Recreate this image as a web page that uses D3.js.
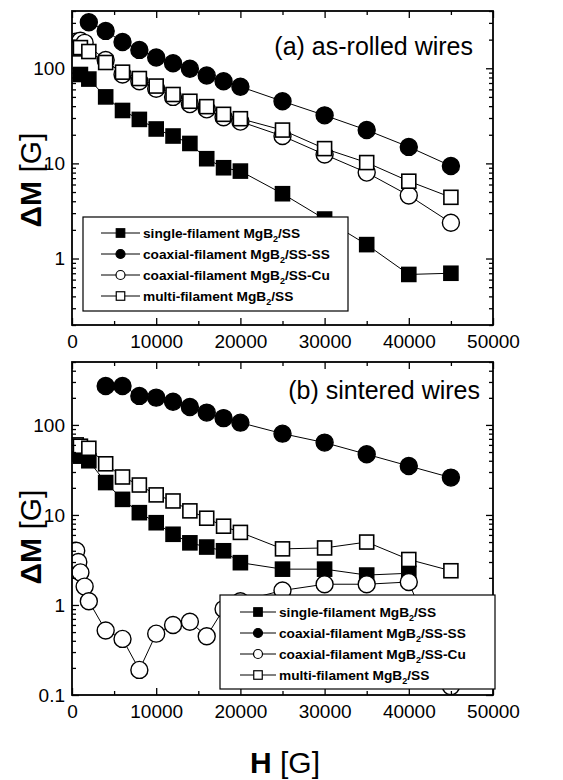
<!DOCTYPE html>
<html><head><meta charset="utf-8">
<script src="https://cdn.jsdelivr.net/npm/d3@7"></script>
<style>body{margin:0;background:#fff}svg{display:block}</style>
</head><body>
<script>
// ---- DATA ----
const seriesNames = ["single-filament MgB", "coaxial-filament MgB", "coaxial-filament MgB", "multi-filament MgB"];
const seriesSuffix = ["/SS", "/SS-SS", "/SS-Cu", "/SS"];
const xTicks = [0, 10000, 20000, 30000, 40000, 50000];
const yTicksA = [1, 10, 100];
const yTicksB = [0.1, 1, 10, 100];
const panelTitles = ["(a) as-rolled wires", "(b) sintered wires"];

// (a) as-rolled wires
const a_single_H = [1000,2000,4000,6000,8000,10000,12000,14000,16000,18000,20000,25000,30000,35000,40000,45000];
const a_single_M = [86,77,50,36,29,23,19.4,16.2,11.2,9.0,8.3,4.8,2.6,1.4,0.68,0.70];
const a_coaxSS_H = [2000,4000,6000,8000,10000,12000,14000,16000,18000,20000,25000,30000,35000,40000,45000];
const a_coaxSS_M = [305,247,189,156,130,113,99,84,73,64,45,32,22.4,14.9,9.4];
const a_coaxCu_H = [500,1000,1500,4000,6000,8000,10000,12000,14000,16000,18000,20000,25000,30000,35000,40000,45000];
const a_coaxCu_M = [190,195,185,122,86,73,61,50,42,37,30.5,27.5,19.4,12.4,8.0,4.6,2.38];
const a_multi_H = [500,1000,2000,4000,6000,8000,10000,12000,14000,16000,18000,20000,25000,30000,35000,40000,45000];
const a_multi_M = [160,165,150,115,91,78,65,53,45,39.5,32.8,29.5,22.4,14.3,10.2,6.5,4.4];

// (b) sintered wires
const b_single_H = [500,1000,2000,4000,6000,8000,10000,12000,14000,16000,18000,20000,25000,30000,35000,40000];
const b_single_M = [48,45,40,22.9,14.9,10.6,8.2,6.1,4.9,4.4,4.0,2.95,2.5,2.5,2.15,2.25];
const b_coaxSS_H = [4000,6000,8000,10000,12000,14000,16000,18000,20000,25000,30000,35000,40000,45000];
const b_coaxSS_M = [271,271,210,201,181,158,137,119,106,80,63.6,47.2,35,26];
const b_coaxCu_H = [500,750,1000,1500,2000,4000,6000,8000,10000,12000,14000,16000,18000,20000,25000,30000,35000,40000,45000];
const b_coaxCu_M = [4.0,3.0,2.3,1.6,1.1,0.52,0.42,0.19,0.48,0.6,0.65,0.45,0.9,1.1,1.45,1.7,1.7,1.8,0.125];
const b_multi_H = [500,1000,2000,4000,6000,8000,10000,12000,14000,16000,18000,20000,25000,30000,35000,40000,45000];
const b_multi_M = [60,58,55,37,26.4,21.5,16.7,14.3,11.1,9.2,7.5,6.4,4.2,4.3,5.0,3.2,2.4];

// ---- DRAW ----
const W = 563, Hh = 780;
const FONT = "'Liberation Sans', Arial, Helvetica, sans-serif";
const svg = d3.select("body").append("svg").attr("width", W).attr("height", Hh)
  .style("font-family", FONT);
svg.append("rect").attr("width", W).attr("height", Hh).attr("fill", "#fff");

const x = d3.scaleLinear().domain([0, 50000]).range([72, 493]);
const markerTypes = ["sqFill", "circFill", "circOpen", "sqOpen"];

const zip = (hs, ms) => hs.map((h, i) => [h, ms[i]]);

const panels = [
  {top: 11, bottom: 325, domain: [0.2, 400], yTicks: yTicksA, title: panelTitles[0], titleX: 473, titleY: 55,
   series: [zip(a_single_H, a_single_M), zip(a_coaxSS_H, a_coaxSS_M), zip(a_coaxCu_H, a_coaxCu_M), zip(a_multi_H, a_multi_M)],
   legend: {x: 83, y: 217, w: 265, h: 94, rows: [233, 254, 275, 296], l0: 101, l1: 140, tx: 143},
   xLabelY: 350, yLabelY: 180},
  {top: 362, bottom: 695, domain: [0.1, 500], yTicks: yTicksB, title: panelTitles[1], titleX: 480, titleY: 399,
   series: [zip(b_single_H, b_single_M), zip(b_coaxSS_H, b_coaxSS_M), zip(b_coaxCu_H, b_coaxCu_M), zip(b_multi_H, b_multi_M)],
   legend: {x: 220, y: 595, w: 275, h: 94, rows: [612, 633, 654, 675], l0: 240, l1: 276, tx: 279},
   xLabelY: 713, yLabelY: 537}
];

function drawMarker(g, type, cx, cy, big) {
  const r = big ? 8.5 : 4.5, s = big ? 14 : 8.5;
  if (type.startsWith("sq")) {
    g.append("rect").attr("x", cx - s / 2).attr("y", cy - s / 2).attr("width", s).attr("height", s)
      .attr("fill", type === "sqFill" ? "#000" : "#fff").attr("stroke", "#000").attr("stroke-width", big ? 1.6 : 1.2);
  } else {
    g.append("circle").attr("cx", cx).attr("cy", cy).attr("r", r)
      .attr("fill", type === "circFill" ? "#000" : "#fff").attr("stroke", "#000").attr("stroke-width", big ? 1.4 : 1.2);
  }
}

panels.forEach((p, pi) => {
  const y = d3.scaleLog().domain(p.domain).range([p.bottom, p.top]);
  const g = svg.append("g");
  const clipId = "clip" + pi;
  svg.append("clipPath").attr("id", clipId).append("rect")
    .attr("x", x.range()[0]).attr("y", p.top).attr("width", x.range()[1] - x.range()[0]).attr("height", p.bottom - p.top);
  const plot = g.append("g").attr("clip-path", `url(#${clipId})`);

  const line = d3.line().x(d => x(d[0])).y(d => y(d[1]));
  p.series.forEach(s => {
    plot.append("path").attr("d", line(s)).attr("fill", "none").attr("stroke", "#000").attr("stroke-width", 1);
  });
  p.series.forEach((s, si) => {
    s.forEach(d => drawMarker(plot, markerTypes[si], x(d[0]), y(d[1]), true));
  });

  // Axes (ticks inward)
  const lo = Math.log10(p.domain[0]), hi = Math.log10(p.domain[1]);
  const minorY = [];
  for (let e = Math.floor(lo); e <= Math.ceil(hi); e++) {
    for (let k = 2; k <= 9; k++) {
      const v = k * Math.pow(10, e);
      if (v >= p.domain[0] && v <= p.domain[1]) minorY.push(v);
    }
  }
  const majorY = p.yTicks;
  const minorX = [5000, 15000, 25000, 35000, 45000];

  const axL = g.append("g").attr("transform", `translate(${x.range()[0]},0)`)
    .call(d3.axisLeft(y).tickValues(majorY).tickFormat(d3.format("~g")).tickSizeInner(-7).tickSizeOuter(0).tickPadding(7));
  g.append("g").attr("transform", `translate(${x.range()[0]},0)`)
    .call(d3.axisLeft(y).tickValues(minorY).tickFormat("").tickSizeInner(-4).tickSizeOuter(0));
  g.append("g").attr("transform", `translate(${x.range()[1]},0)`)
    .call(d3.axisRight(y).tickValues(majorY).tickFormat("").tickSizeInner(-7).tickSizeOuter(0));
  g.append("g").attr("transform", `translate(${x.range()[1]},0)`)
    .call(d3.axisRight(y).tickValues(minorY).tickFormat("").tickSizeInner(-4).tickSizeOuter(0));
  const axB = g.append("g").attr("transform", `translate(0,${p.bottom})`)
    .call(d3.axisBottom(x).tickValues(xTicks).tickFormat(d3.format("d")).tickSizeInner(-7).tickSizeOuter(0).tickPadding(10));
  g.append("g").attr("transform", `translate(0,${p.bottom})`)
    .call(d3.axisBottom(x).tickValues(minorX).tickFormat("").tickSizeInner(-4).tickSizeOuter(0));
  g.append("g").attr("transform", `translate(0,${p.top})`)
    .call(d3.axisTop(x).tickValues(xTicks).tickFormat("").tickSizeInner(-7).tickSizeOuter(0));
  g.append("g").attr("transform", `translate(0,${p.top})`)
    .call(d3.axisTop(x).tickValues(minorX).tickFormat("").tickSizeInner(-4).tickSizeOuter(0));

  g.selectAll(".domain").remove();
  g.selectAll(".tick line").attr("stroke", "#000").attr("stroke-width", 1.3);
  axL.selectAll("text").attr("font-size", 19).attr("font-family", FONT).attr("fill", "#000");
  axB.selectAll("text").attr("font-size", 19).attr("font-family", FONT).attr("fill", "#000");

  // frame
  g.append("rect").attr("x", x.range()[0]).attr("y", p.top)
    .attr("width", x.range()[1] - x.range()[0]).attr("height", p.bottom - p.top)
    .attr("fill", "none").attr("stroke", "#000").attr("stroke-width", 1.8);

  // title
  g.append("text").attr("x", p.titleX).attr("y", p.titleY).attr("text-anchor", "end")
    .attr("font-size", 25).text(p.title);

  // legend
  const L = p.legend;
  const lg = g.append("g");
  lg.append("rect").attr("x", L.x).attr("y", L.y).attr("width", L.w).attr("height", L.h)
    .attr("fill", "#fff").attr("stroke", "#000").attr("stroke-width", 1.2);
  seriesNames.forEach((nm, i) => {
    const ry = L.rows[i];
    lg.append("line").attr("x1", L.l0).attr("x2", L.l1).attr("y1", ry).attr("y2", ry)
      .attr("stroke", "#000").attr("stroke-width", 1);
    drawMarker(lg, markerTypes[i], (L.l0 + L.l1) / 2, ry, false);
    const t = lg.append("text").attr("x", L.tx).attr("y", ry + 5).attr("font-size", 13.7).attr("font-weight", "bold");
    t.append("tspan").text(nm);
    t.append("tspan").attr("font-size", 9).attr("dy", 4).text("2");
    t.append("tspan").attr("dy", -4).text(seriesSuffix[i]);
  });

  // y label
  const yl = g.append("text").attr("transform", `translate(41,${p.yLabelY}) rotate(-90)`)
    .attr("text-anchor", "middle").attr("font-size", 30);
  yl.append("tspan").attr("font-weight", "bold").text("ΔM");
  yl.append("tspan").text(" [G]");
});

// x label
const xl = svg.append("text").attr("x", 285).attr("y", 773).attr("text-anchor", "middle").attr("font-size", 30);
xl.append("tspan").attr("font-weight", "bold").text("H");
xl.append("tspan").text(" [G]");
</script>
</body></html>
